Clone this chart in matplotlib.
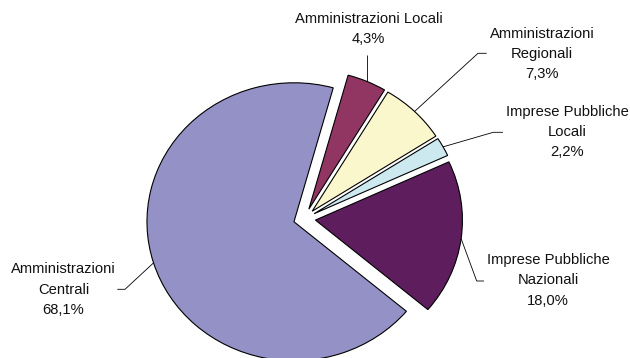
import matplotlib
matplotlib.use("Agg")
import numpy as np
import matplotlib.pyplot as plt

plt.rcParams["font.family"] = ["Liberation Sans", "DejaVu Sans"]

# shares by sector, clockwise from the top
labels = ["Amministrazioni Locali", "Amministrazioni\nRegionali",
          "Imprese Pubbliche\nLocali", "Imprese Pubbliche\nNazionali",
          "Amministrazioni\nCentrali"]
shares = [4.3, 7.3, 2.2, 18.0, 68.1]
colors = ["#913562", "#FBF7CD", "#CCE9F0", "#5E1E5E", "#9491C6"]

W, H = 630, 358
cx, cy = 304.5, 218.7      # pie centre, pixels from top-left
rx, ry = 147.0, 139.0      # slightly squashed pie

# label centre (px) and leader-line route from the wedge to the label (px);
# None for x keeps the line vertical above the wedge
label_pos = [(368.5, 29), (542, 54), (567, 132), (548, 280.5), (63.5, 289.5)]
leader_pts = [
    [(None, 55)],
    [(478, 53.3), (486.7, 53.3)],
    [(493.3, 132.3), (503, 132.3)],
    [(476.7, 281), (484, 281)],
    [(125, 289.3), (117.3, 289.3)],
]


def to_data(px, py):
    return (px - cx) / rx, (cy - py) / ry


fig = plt.figure(figsize=(W / 100, H / 100), dpi=100)
ax = fig.add_axes([0, 0, 1, 1])

wedges, _ = ax.pie(shares, explode=[0.075] * len(shares), startangle=74.5,
                   counterclock=False, colors=colors,
                   wedgeprops=dict(edgecolor="black", linewidth=0.8))

ax.set_aspect("auto")
ax.set_xlim(to_data(0, 0)[0], to_data(W, 0)[0])
ax.set_ylim(to_data(0, H)[1], to_data(0, 0)[1])
ax.axis("off")

for w, lab, val, pos, route in zip(wedges, labels, shares, label_pos, leader_pts):
    mid = np.deg2rad((w.theta1 + w.theta2) / 2)
    x0 = w.center[0] + w.r * np.cos(mid)
    y0 = w.center[1] + w.r * np.sin(mid)
    xs, ys = [x0], [y0]
    for px, py in route:
        dx, dy = to_data(px if px is not None else 0, py)
        xs.append(x0 if px is None else dx)
        ys.append(dy)
    ax.plot(xs, ys, color="black", lw=0.6, solid_capstyle="butt")
    tx, ty = to_data(*pos)
    ax.text(tx, ty, f"{lab}\n{val:.1f}%".replace(".", ","), ha="center",
            va="center", fontsize=10.6, linespacing=1.55, color="#111111")

fig.savefig("out.png", dpi=100)
